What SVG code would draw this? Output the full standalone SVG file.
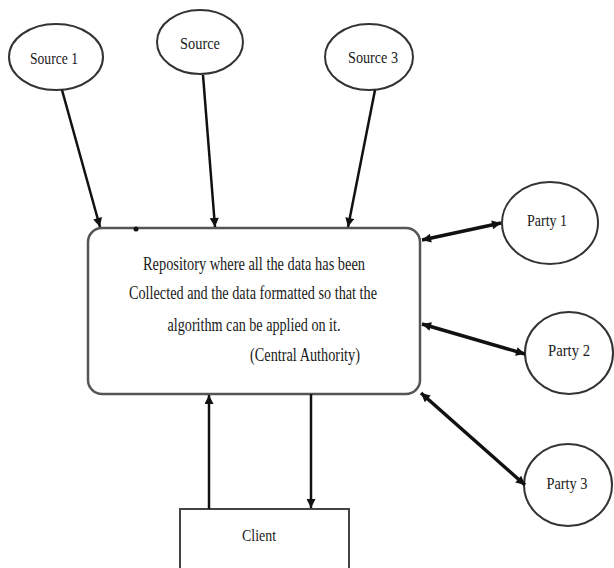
<svg xmlns="http://www.w3.org/2000/svg" width="614" height="568" viewBox="0 0 614 568">
<defs>
<style>
.node{fill:#fff;stroke:#333;stroke-width:2}
.lbl{font-family:"Liberation Serif","Times New Roman",serif;font-size:17px;fill:#1a1a1a;text-anchor:middle}
.body{font-family:"Liberation Serif","Times New Roman",serif;font-size:18px;fill:#1a1a1a;text-anchor:middle}
.c{stroke:#111;stroke-width:2.5;fill:none}
.cb{stroke:#111;stroke-width:3.5;fill:none}
</style>
<marker id="ah" markerUnits="userSpaceOnUse" viewBox="0 0 10 10" refX="10" refY="5" markerWidth="11" markerHeight="9" orient="auto-start-reverse">
<path d="M0,0 L10,5 L0,10 z" fill="#111"/>
</marker>
</defs>
<rect width="614" height="568" fill="#fff"/>
<g id="source1"><ellipse class="node" cx="56" cy="57" rx="47" ry="33"/><text class="lbl" x="54" y="64" textLength="48" lengthAdjust="spacingAndGlyphs">Source 1</text></g>
<g id="source2"><ellipse class="node" cx="200" cy="42" rx="43" ry="32"/><text class="lbl" x="200" y="49" textLength="40" lengthAdjust="spacingAndGlyphs">Source</text></g>
<g id="source3"><ellipse class="node" cx="369" cy="57" rx="44" ry="33"/><text class="lbl" x="373" y="63" textLength="50" lengthAdjust="spacingAndGlyphs">Source 3</text></g>
<g id="party1"><ellipse class="node" cx="550" cy="223" rx="48" ry="41"/><text class="lbl" x="547" y="226" textLength="40" lengthAdjust="spacingAndGlyphs">Party 1</text></g>
<g id="party2"><ellipse class="node" cx="569" cy="353" rx="44" ry="41"/><text class="lbl" x="569" y="356" textLength="42" lengthAdjust="spacingAndGlyphs">Party 2</text></g>
<g id="party3"><ellipse class="node" cx="568" cy="485" rx="44" ry="41"/><text class="lbl" x="567" y="489" textLength="41" lengthAdjust="spacingAndGlyphs">Party 3</text></g>
<g id="repository"><rect x="88" y="228" width="332" height="166" rx="14" ry="14" fill="#fff" stroke="#555" stroke-width="2.5"/>
<text class="body" x="254" y="270" textLength="222" lengthAdjust="spacingAndGlyphs">Repository where all the data has been</text>
<text class="body" x="253" y="299" textLength="248" lengthAdjust="spacingAndGlyphs">Collected and the data formatted so that the</text>
<text class="body" x="254" y="331" textLength="173" lengthAdjust="spacingAndGlyphs">algorithm can be applied on it.</text>
<text class="body" x="305" y="361" textLength="110" lengthAdjust="spacingAndGlyphs">(Central Authority)</text>
<circle cx="136" cy="229" r="2.5" fill="#111"/></g>
<g id="client"><rect x="180" y="509" width="169" height="80" fill="#fff" stroke="#444" stroke-width="2"/><text class="lbl" x="259" y="541" textLength="34" lengthAdjust="spacingAndGlyphs">Client</text></g>
<g id="connectors">
<line class="c" x1="62" y1="90" x2="100" y2="227" marker-end="url(#ah)"/>
<line class="c" x1="203" y1="75" x2="215" y2="227" marker-end="url(#ah)"/>
<line class="c" x1="375" y1="90" x2="348" y2="227" marker-end="url(#ah)"/>
<line class="cb" x1="422" y1="240" x2="501" y2="223" marker-start="url(#ah)" marker-end="url(#ah)"/>
<line class="cb" x1="422" y1="324" x2="525" y2="354" marker-start="url(#ah)" marker-end="url(#ah)"/>
<line class="cb" x1="421" y1="393" x2="525" y2="485" marker-start="url(#ah)" marker-end="url(#ah)"/>
<line class="c" x1="209" y1="509" x2="209" y2="395" marker-end="url(#ah)"/>
<line class="c" x1="311" y1="394" x2="311" y2="508" marker-end="url(#ah)"/>
</g>
</svg>
